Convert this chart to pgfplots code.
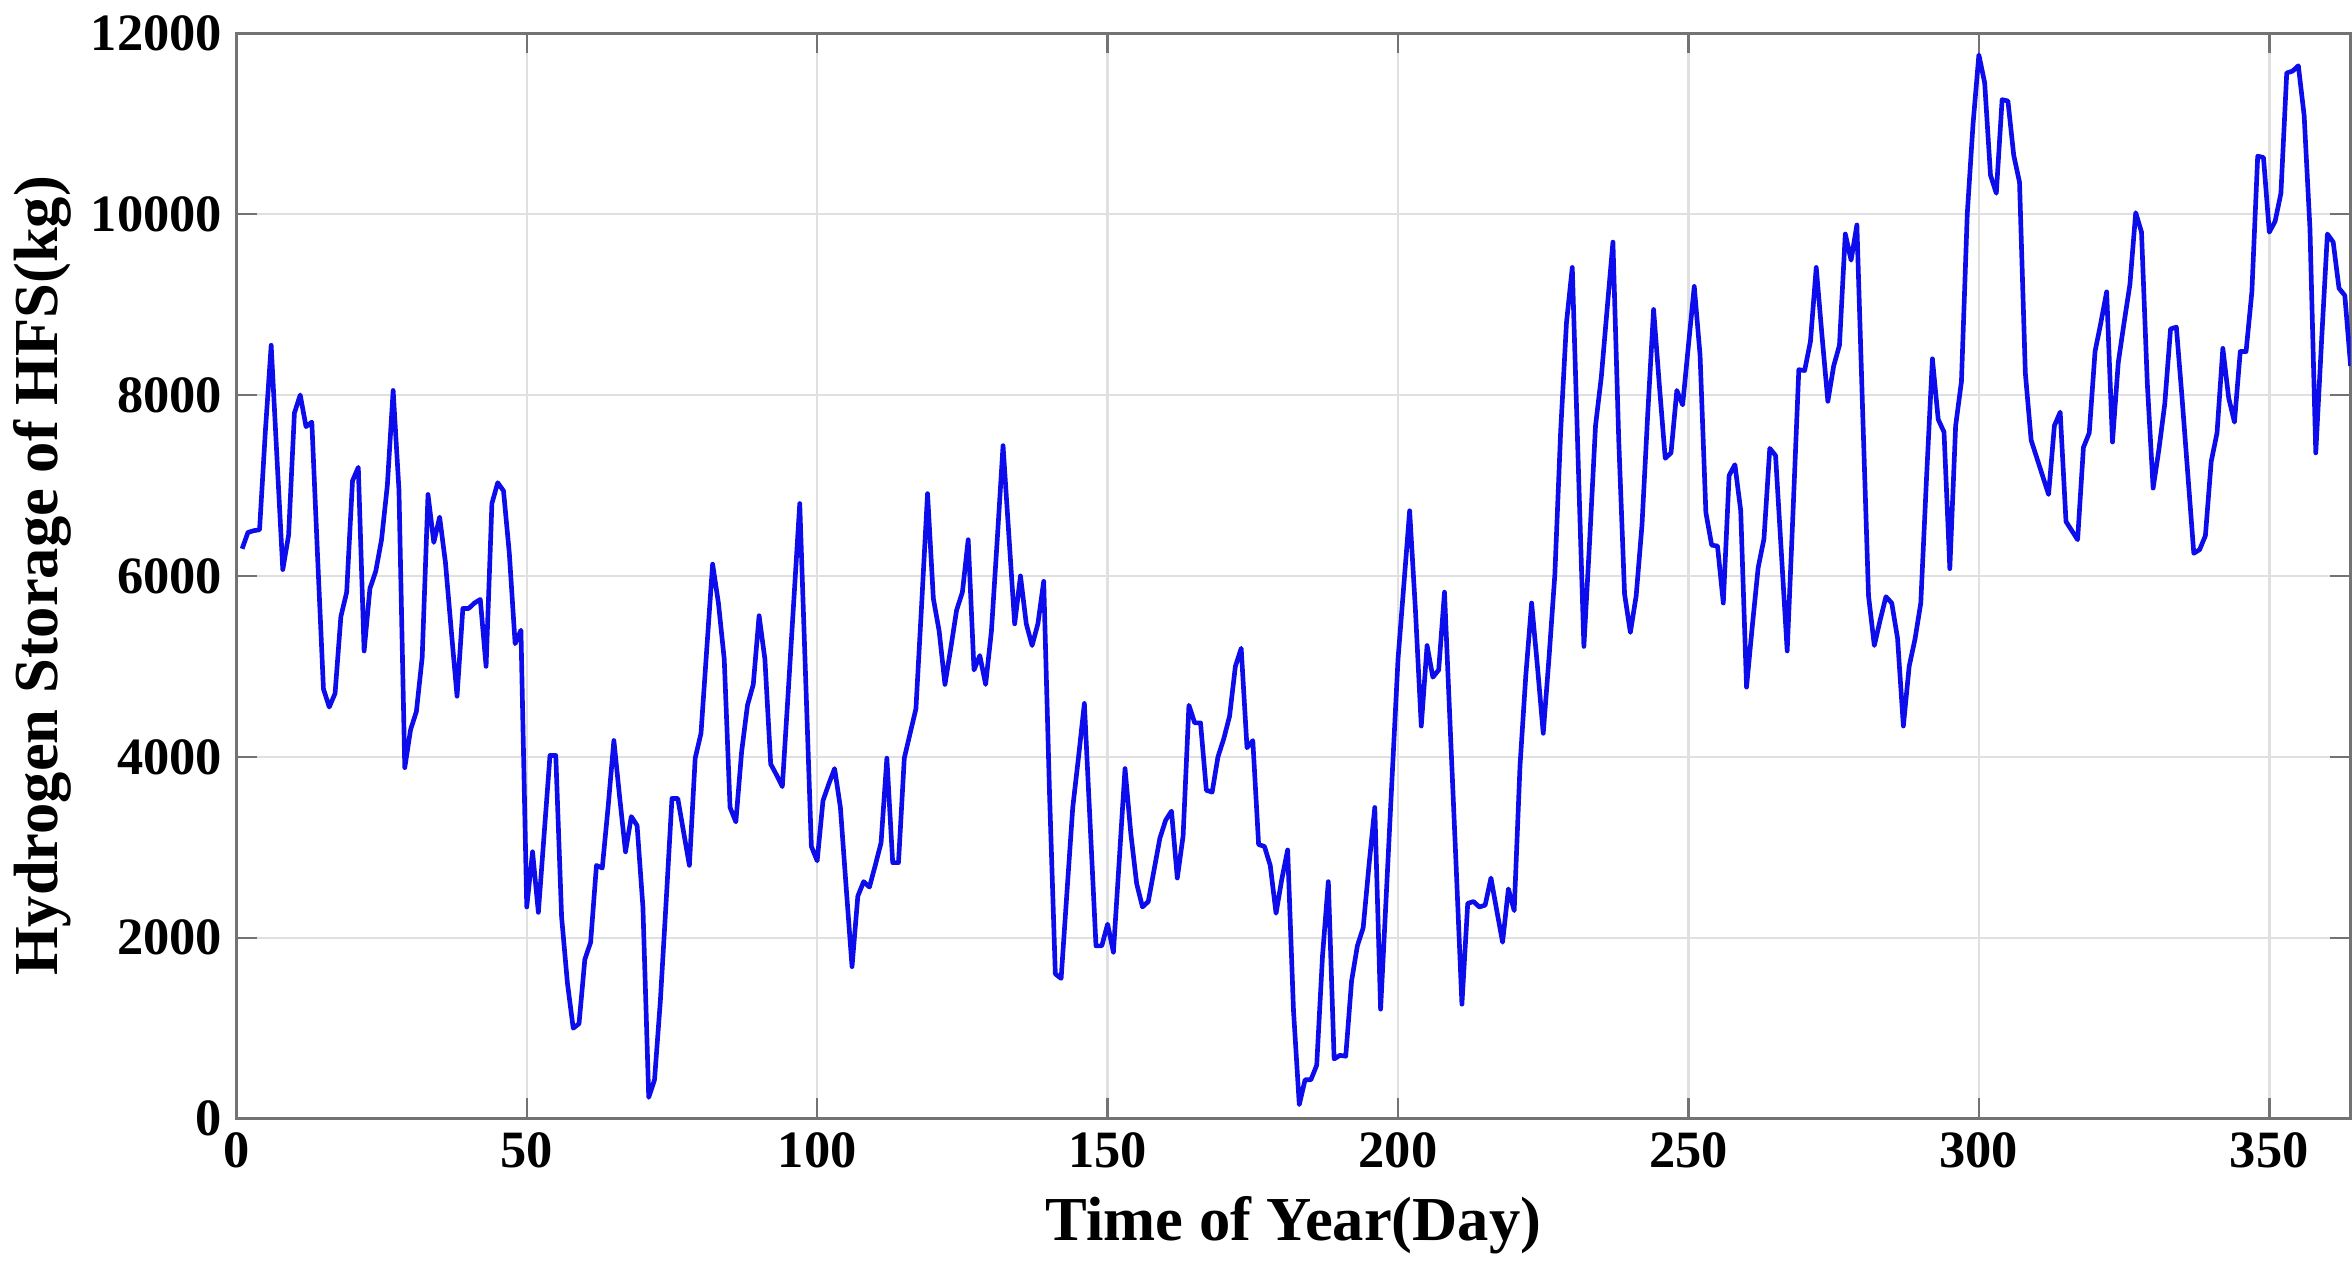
\documentclass[border={0pt 3pt 0pt 0.5pt}]{standalone}
\usepackage{pgfplots}
\pgfplotsset{compat=1.18}
\usepackage{fontspec}
\setmainfont{Liberation Serif}
\definecolor{lineblue}{rgb}{0.05,0.05,0.92}
\definecolor{frame}{gray}{0.45}
\definecolor{gridc}{gray}{0.88}
\begin{document}
\begin{tikzpicture}
\begin{axis}[
  scale only axis,
  width=522bp, height=268bp,
  xmin=0, xmax=364, ymin=0, ymax=12000,
  xtick={0,50,...,350},
  ytick={0,2000,...,12000},
  scaled ticks=false,
  grid=major,
  major grid style={gridc, line width=0.6pt},
  axis line style={frame, line width=0.7pt},
  tick style={frame, line width=0.6pt},
  tick align=inside,
  major tick length=5pt,
  xtick pos=both, ytick pos=both,
  /pgf/number format/assume math mode=true,
  /pgf/number format/set thousands separator={},
  ticklabel style={font=\bfseries\fontsize{13}{15}\selectfont, text=black},
  xlabel={Time of Year(Day)},
  ylabel={Hydrogen Storage of HFS(kg)},
  label style={font=\bfseries\fontsize{15.5}{18}\selectfont},
  xlabel style={yshift=0pt},
  ylabel style={yshift=-2pt},
]
\addplot[lineblue, line width=1.15bp, line join=round] coordinates {
(1,6300)(2,6480)(3,6500)(4,6510)(5,7600)(6,8550)(7,7300)(8,6070)(9,6450)(10,7800)
(11,8000)(12,7650)(13,7700)(14,6200)(15,4750)(16,4550)(17,4700)(18,5550)(19,5820)(20,7050)
(21,7200)(22,5170)(23,5860)(24,6050)(25,6400)(26,7000)(27,8050)(28,6950)(29,3880)(30,4300)
(31,4500)(32,5100)(33,6900)(34,6370)(35,6650)(36,6150)(37,5400)(38,4670)(39,5640)(40,5640)
(41,5700)(42,5740)(43,5000)(44,6800)(45,7030)(46,6940)(47,6250)(48,5250)(49,5400)(50,2340)
(51,2950)(52,2280)(53,3150)(54,4015)(55,4015)(56,2230)(57,1500)(58,1000)(59,1050)(60,1760)
(61,1950)(62,2800)(63,2770)(64,3440)(65,4180)(66,3550)(67,2950)(68,3340)(69,3240)(70,2340)
(71,235)(72,430)(73,1300)(74,2400)(75,3540)(76,3540)(77,3170)(78,2800)(79,3985)(80,4260)
(81,5200)(82,6130)(83,5700)(84,5080)(85,3440)(86,3280)(87,4060)(88,4570)(89,4800)(90,5560)
(91,5080)(92,3920)(93,3800)(94,3670)(95,4700)(96,5750)(97,6800)(98,4900)(99,3010)(100,2850)
(101,3515)(102,3700)(103,3870)(104,3440)(105,2550)(106,1680)(107,2460)(108,2620)(109,2560)(110,2800)
(111,3050)(112,3985)(113,2830)(114,2830)(115,3985)(116,4260)(117,4530)(118,5700)(119,6910)(120,5750)
(121,5390)(122,4800)(123,5200)(124,5620)(125,5820)(126,6400)(127,4960)(128,5120)(129,4800)(130,5390)
(131,6400)(132,7440)(133,6450)(134,5470)(135,6000)(136,5470)(137,5230)(138,5470)(139,5940)(140,3600)
(141,1600)(142,1550)(143,2500)(144,3440)(145,4000)(146,4590)(147,3250)(148,1910)(149,1910)(150,2150)
(151,1840)(152,2850)(153,3870)(154,3150)(155,2600)(156,2340)(157,2400)(158,2750)(159,3100)(160,3300)
(161,3400)(162,2660)(163,3125)(164,4570)(165,4375)(166,4375)(167,3630)(168,3610)(169,4000)(170,4200)
(171,4450)(172,5000)(173,5200)(174,4100)(175,4180)(176,3030)(177,3010)(178,2800)(179,2270)(180,2650)
(181,2970)(182,1200)(183,155)(184,430)(185,430)(186,590)(187,1800)(188,2620)(189,660)(190,700)
(191,690)(192,1520)(193,1910)(194,2110)(195,2800)(196,3440)(197,1210)(198,2500)(199,3800)(200,5080)
(201,5900)(202,6720)(203,5620)(204,4340)(205,5230)(206,4880)(207,4960)(208,5820)(209,4300)(210,2800)
(211,1265)(212,2380)(213,2400)(214,2340)(215,2360)(216,2660)(217,2300)(218,1950)(219,2540)(220,2300)
(221,3900)(222,4900)(223,5700)(224,5000)(225,4260)(226,5100)(227,6015)(228,7600)(229,8800)(230,9410)
(231,7300)(232,5220)(233,6400)(234,7660)(235,8200)(236,8950)(237,9690)(238,7500)(239,5800)(240,5375)
(241,5780)(242,6560)(243,7800)(244,8945)(245,8100)(246,7300)(247,7360)(248,8050)(249,7890)(250,8550)
(251,9200)(252,8440)(253,6700)(254,6340)(255,6330)(256,5700)(257,7110)(258,7230)(259,6720)(260,4770)
(261,5450)(262,6090)(263,6410)(264,7410)(265,7330)(266,6250)(267,5170)(268,6700)(269,8280)(270,8270)
(271,8590)(272,9410)(273,8650)(274,7930)(275,8320)(276,8550)(277,9780)(278,9490)(279,9880)(280,7800)
(281,5780)(282,5230)(283,5510)(284,5770)(285,5700)(286,5310)(287,4340)(288,5000)(289,5300)(290,5700)
(291,7100)(292,8400)(293,7730)(294,7590)(295,6080)(296,7660)(297,8150)(298,10000)(299,11000)(300,11760)
(301,11450)(302,10430)(303,10230)(304,11265)(305,11250)(306,10650)(307,10350)(308,8240)(309,7500)(310,7300)
(311,7100)(312,6900)(313,7660)(314,7810)(315,6600)(316,6500)(317,6400)(318,7420)(319,7580)(320,8480)
(321,8800)(322,9140)(323,7480)(324,8360)(325,8800)(326,9220)(327,10015)(328,9800)(329,8125)(330,6970)
(331,7400)(332,7900)(333,8730)(334,8750)(335,7950)(336,7100)(337,6250)(338,6290)(339,6445)(340,7265)
(341,7580)(342,8515)(343,7970)(344,7700)(345,8480)(346,8480)(347,9140)(348,10640)(349,10625)(350,9800)
(351,9920)(352,10230)(353,11560)(354,11580)(355,11640)(356,11090)(357,9840)(358,7360)(359,8600)(360,9780)
(361,9690)(362,9180)(363,9100)(364,8320)
};
\end{axis}
\end{tikzpicture}
\end{document}
